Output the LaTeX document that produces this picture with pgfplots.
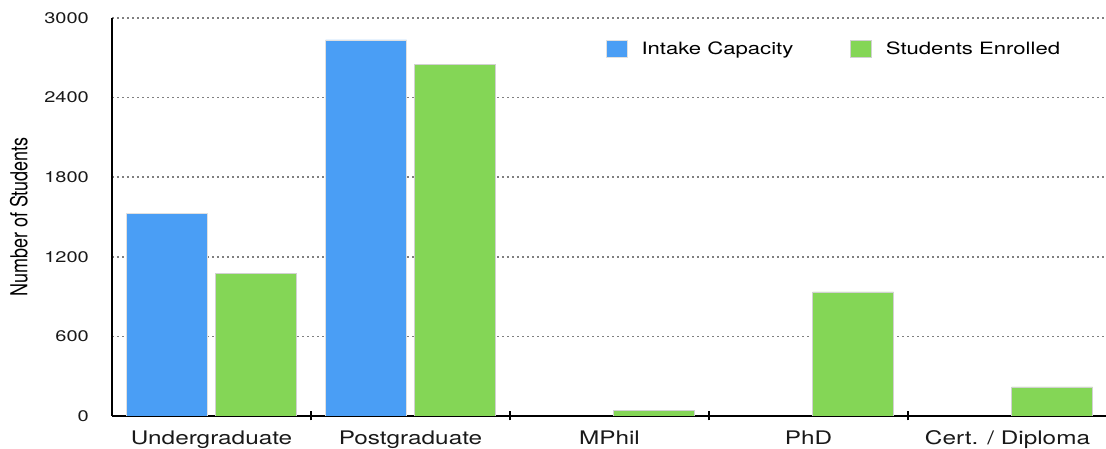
\documentclass[border=0pt]{standalone}
\usepackage{fontspec}
\setmainfont{TeX Gyre Heros}[FakeStretch=1.3]
\newfontfamily\plainfont{TeX Gyre Heros}
\usepackage{pgfplots}
\pgfplotsset{compat=1.18}
\definecolor{cblue}{HTML}{4A9EF5}
\definecolor{cgreen}{HTML}{84D656}
\begin{document}
\begin{tikzpicture}[x=1pt,y=1pt]
\path[use as bounding box] (0,0) rectangle (1106,449);
\begin{axis}[
  at={(112pt,33pt)}, anchor=south west,
  scale only axis, width=995pt, height=398pt,
  xmin=-0.5, xmax=4.5, ymin=0, ymax=3000,
  ybar,
  axis x line=bottom, axis y line=left,
  axis line style={-, line width=1.7pt, black},
  ytick={0,600,1200,1800,2400,3000},
  scaled y ticks=false,
  /pgf/number format/1000 sep={},
  /pgf/number format/assume math mode=true,
  ymajorgrids,
  grid style={line width=1.6pt, black!50, dash pattern=on 1.5pt off 3.5pt},
  major tick length=0pt,
  tick style={line width=1.3pt, black},
  xtick={0,1,2,3,4},
  xticklabels={Undergraduate,Postgraduate,MPhil,PhD,Cert. / Diploma},
  extra x ticks={0.5,1.5,2.5,3.5},
  extra x tick labels={},
  extra x tick style={major tick length=9pt, tick align=center, grid=none},
  yticklabel style={font=\fontsize{15.4}{16}\selectfont, text=black!90, anchor=east, inner sep=0pt, xshift=-23pt},
  xticklabel style={font=\fontsize{18.7}{20}\selectfont, text=black!90, anchor=base, inner sep=0pt, yshift=-29pt},
  ylabel={\scalebox{1}[1.3]{\plainfont\fontsize{18}{20}\selectfont Number of Students}},
  ylabel style={anchor=center, at={(axis description cs:-0.0935,0.5)}},
  legend columns=2,
  legend image code/.code={\fill[#1] (0pt,-8.15pt) rectangle (21pt,8.15pt);},
  legend style={at={(axis description cs:0.4965,0.9225)}, anchor=west, draw=none, fill=none,
    inner sep=0pt, outer sep=0pt,
    font=\fontsize{17}{18}\selectfont,
    nodes={inner sep=0pt, anchor=west},
    /tikz/every odd column/.append style={column sep=14pt},
    /tikz/every even column/.append style={column sep=57pt}},
]
\addplot[fill=cblue, draw=black!12, line width=0.5pt, bar width=81pt, bar shift=-44.5pt]
  coordinates {(0,1530) (1,2835)};
\addlegendentry{Intake Capacity}
\addplot[fill=cgreen, draw=black!18, line width=0.5pt, bar width=81pt, bar shift=44.5pt]
  coordinates {(0,1075) (1,2650) (2,43) (3,935) (4,219)};
\addlegendentry{Students Enrolled}
\end{axis}
\end{tikzpicture}
\end{document}
